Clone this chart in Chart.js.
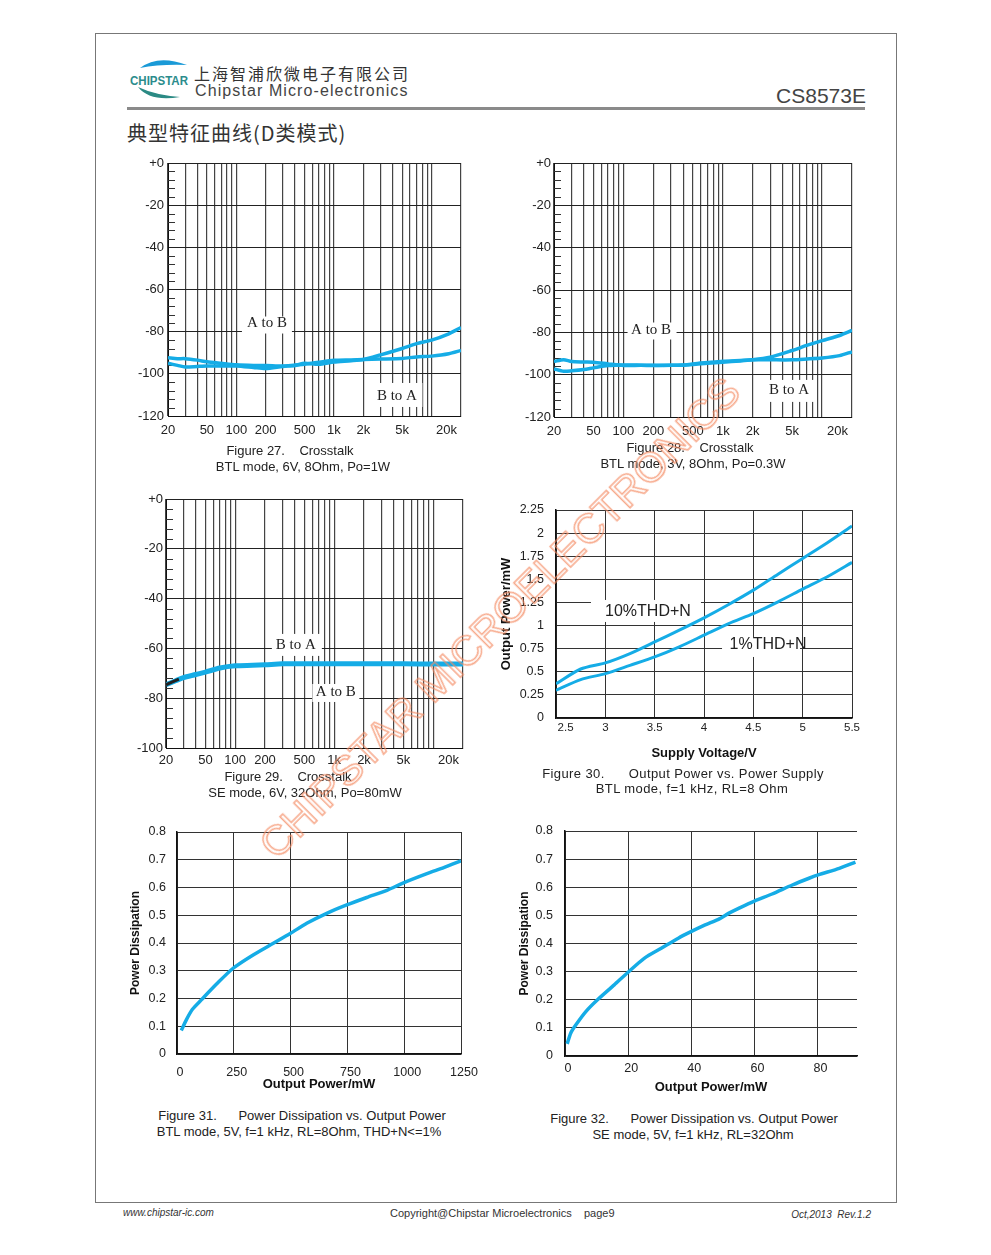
<!DOCTYPE html>
<html>
<head>
<meta charset="utf-8">
<script src="https://cdn.jsdelivr.net/npm/chart.js@4.4.1/dist/chart.umd.min.js"></script>
<style>
  body { margin:0; width:991px; height:1255px; position:relative; background:#fff; overflow:hidden;
         font-family:"Liberation Sans", Arial, sans-serif; color:#222; }
  canvas { position:absolute; }
  .t { position:absolute; white-space:pre; }
  .cap { position:absolute; white-space:pre; font-size:13px; line-height:16px; transform:translateX(-50%); text-align:center; }
  #frame { position:absolute; left:95px; top:33px; width:802px; height:1170px; border:1px solid #777; box-sizing:border-box; }
  #mark { position:absolute; left:500px; top:618px; transform:translate(-50%,-50%) rotate(-45deg);
          font-size:42px; white-space:nowrap; color:rgba(255,255,255,0);
          -webkit-text-stroke:1.5px rgba(244,140,100,0.75); z-index:5; font-family:"Liberation Sans", Arial, sans-serif; }
</style>
</head>
<body>
<div id="frame"></div>

<svg class="t" style="left:125px;top:55px" width="70" height="50">
  <path d="M15 13 Q33 -1 62 10 Q35 9 15 13 Z" fill="#1a9ad7"/>
  <text x="5" y="30" font-family="Liberation Sans" font-weight="bold" font-size="12" fill="#2b8c8c" textLength="58" lengthAdjust="spacingAndGlyphs">CHIPSTAR</text>
  <path d="M13 32 Q25 47 55 42 Q30 40 13 32 Z" fill="#2b8a84"/>
</svg>
<div class="t" style="left:194px;top:63px;font-size:16px;line-height:20px;letter-spacing:2px;font-family:'Noto Sans CJK SC';color:#333">上海智浦欣微电子有限公司</div>
<div class="t" style="left:195px;top:81px;font-size:16px;line-height:20px;letter-spacing:1.1px;color:#444">Chipstar Micro-electronics</div>
<div class="t" style="right:125px;top:84px;font-size:21px;line-height:24px;color:#444">CS8573E</div>
<div class="t" style="left:127px;top:107px;width:738px;height:3px;background:#8a8a8a"></div>
<div class="t" style="left:127px;top:120px;font-size:20px;line-height:26px;letter-spacing:1px;font-family:'Noto Sans CJK SC';color:#333">典型特征曲线(D类模式)</div>

<canvas id="c27"></canvas>
<canvas id="c28"></canvas>
<canvas id="c29"></canvas>
<canvas id="c30"></canvas>
<canvas id="c31"></canvas>
<canvas id="c32"></canvas>

<div class="cap" style="left:290px;top:443px">Figure 27.    Crosstalk</div>
<div class="cap" style="left:303px;top:459px">BTL mode, 6V, 8Ohm, Po=1W</div>
<div class="cap" style="left:690px;top:440px">Figure 28.    Crosstalk</div>
<div class="cap" style="left:693px;top:456px">BTL mode, 3V, 8Ohm, Po=0.3W</div>
<div class="cap" style="left:288px;top:769px">Figure 29.    Crosstalk</div>
<div class="cap" style="left:305px;top:785px">SE mode, 6V, 32Ohm, Po=80mW</div>
<div class="cap" style="left:683px;top:766px;letter-spacing:0.4px">Figure 30.      Output Power vs. Power Supply</div>
<div class="cap" style="left:692px;top:781px;letter-spacing:0.4px">BTL mode, f=1 kHz, RL=8 Ohm</div>
<div class="cap" style="left:302px;top:1108px">Figure 31.      Power Dissipation vs. Output Power</div>
<div class="cap" style="left:299px;top:1124px">BTL mode, 5V, f=1 kHz, RL=8Ohm, THD+N&lt;=1%</div>
<div class="cap" style="left:694px;top:1111px">Figure 32.      Power Dissipation vs. Output Power</div>
<div class="cap" style="left:693px;top:1127px">SE mode, 5V, f=1 kHz, RL=32Ohm</div>

<div class="t" style="left:123px;top:1207px;font-size:10px;line-height:12px;font-style:italic;color:#333">www.chipstar-ic.com</div>
<div class="t" style="left:390px;top:1206px;font-size:11px;line-height:14px;color:#333">Copyright@Chipstar Microelectronics    page9</div>
<div class="t" style="right:120px;top:1209px;font-size:10px;line-height:12px;font-style:italic;color:#333">Oct,2013  Rev.1.2</div>

<div id="mark">CHIPSTAR MICROELECTRONICS</div>

<script>
// ---- data ----
const ctFreq = [20,25,30,40,50,70,100,150,200,300,400,500,700,1000,1500,2000,3000,5000,7000,10000,15000,20000];
const ct27AtoB = [-95,-96,-96.8,-96.5,-96.3,-96.3,-96.3,-97,-97.5,-96.5,-96,-95,-95.5,-94.4,-93.8,-93.2,-91,-88,-85.7,-84,-81,-78];
const ct27BtoA = [-92.4,-92.8,-92.8,-93.5,-94.3,-95,-95.7,-96,-96,-96.3,-95.8,-95.5,-94.5,-93.6,-93.4,-93.2,-93,-92.7,-92,-91.6,-90.5,-88.9];
const ct28AtoB = [-93.8,-92.9,-93.8,-94,-94.1,-94.9,-95.7,-95.6,-95.7,-95.5,-95.5,-94.9,-94.3,-93.7,-93.3,-93,-91.8,-88.6,-86.2,-83.9,-81.5,-79.1];
const ct28BtoA = [-97.3,-98.4,-98.2,-97.6,-96.8,-95.7,-95.4,-95.5,-95.6,-95.6,-95.4,-95.2,-94.6,-94.1,-93.5,-93,-93,-93,-92.6,-92.1,-91,-89.2];
const ct29Freq = [20,25,30,40,50,70,100,150,200,300,500,1000,2000,5000,10000,20000];
const ct29Both = [-74.6,-73,-71.7,-70.5,-69.5,-67.9,-67,-66.8,-66.6,-66.2,-66.2,-66.2,-66.2,-66.2,-66.3,-66.3];
const ct29StartFreq = [20,27];
const ct29Start = [-74.6,-72.3];

const supplyV = [2.5,2.75,3,3.25,3.5,3.75,4,4.25,4.5,4.75,5,5.25,5.5];
const pout10 = [0.37,0.53,0.596,0.697,0.823,0.95,1.083,1.228,1.383,1.556,1.726,1.896,2.077];
const pout1 = [0.30,0.415,0.48,0.57,0.661,0.77,0.896,1.022,1.13,1.257,1.394,1.528,1.683];

const pout31 = [19,41,68,107,174,247,335,424,500,571,659,747,835,924,997,1100,1174,1250];
const pdiss31 = [0.085,0.123,0.161,0.195,0.252,0.309,0.357,0.399,0.435,0.471,0.507,0.537,0.564,0.59,0.617,0.65,0.672,0.696];
const pout32 = [0.7,1.8,3.4,6.6,10.3,15.6,19.9,25.2,30.5,35.9,39.9,44.4,48.6,51.8,55,60,65.6,72,77.3,80.2,86.9,92];
const pdiss32 = [0.043,0.081,0.11,0.158,0.2,0.253,0.297,0.348,0.383,0.419,0.442,0.466,0.486,0.507,0.525,0.551,0.576,0.608,0.632,0.644,0.667,0.689];

// tick values / labels
const freqTicks = [20,30,40,50,60,70,80,90,100,200,300,400,500,600,700,800,900,1000,2000,3000,4000,5000,6000,7000,8000,9000,10000,20000];
const freqLabels = ['20','','','50','','','','','100','200','','','500','','','','','1k','2k','','','5k','','','','','','20k        '];
const dbTicks120 = [0,-20,-40,-60,-80,-100,-120];
const dbLabels120 = ['+0','-20','-40','-60','-80','-100','-120'];
const dbTicks100 = [0,-20,-40,-60,-80,-100];
const dbLabels100 = ['+0','-20','-40','-60','-80','-100'];
const voltTicks = [2.5,3,3.5,4,4.5,5,5.5];
const voltLabels = ['      2.5','3','3.5','4','4.5','5','5.5'];
const powTicks = [0,0.25,0.5,0.75,1,1.25,1.5,1.75,2,2.25];
const powLabels = ['0','0.25','0.5','0.75','1','1.25','1.5','1.75','2','2.25'];
const dissTicks = [0,0.1,0.2,0.3,0.4,0.5,0.6,0.7,0.8];
const dissLabels = ['0','0.1','0.2','0.3','0.4','0.5','0.6','0.7','0.8'];
const mw31Ticks = [0,250,500,750,1000,1250];
const mw31Labels = ['0','250','500','750','1000','1250'];
const mw32Ticks = [0,20,40,60,80];
const mw32Labels = ['0','20','40','60','80'];

// ---- helpers ----
Chart.defaults.font.family = '"Liberation Sans", Arial, sans-serif';
Chart.defaults.color = '#222';
const blue = '#15ace6';

function pts(xs, ys) { return xs.map((x, i) => ({x: x, y: ys[i]})) }

function place(id, plot, yw, xh, padTop, padRight) {
  let c = document.getElementById(id);
  let left = plot[0] - yw, top = plot[1] - padTop;
  c.width = plot[2] + padRight - left;
  c.height = plot[3] + xh - top;
  c.style.left = left + 'px';
  c.style.top = top + 'px';
  return c.getContext('2d');
}

const decor = {
  id: 'decor',
  beforeDatasetsDraw(chart, args, opts) {
    const ctx = chart.ctx, area = chart.chartArea, sx = chart.scales.x, sy = chart.scales.y;
    ctx.save();
    if (opts.minorStep) {
      ctx.strokeStyle = '#333';
      ctx.lineWidth = 1;
      for (let v = sy.max; v >= sy.min; v -= opts.minorStep) {
        if (v % 20 === 0) continue;
        let py = Math.round(sy.getPixelForValue(v)) + 0.5;
        ctx.beginPath();
        ctx.moveTo(area.left, py);
        ctx.lineTo(area.left + 7, py);
        ctx.stroke();
      }
    }
    (opts.notes || []).forEach(n => {
      let px = sx.getPixelForValue(n.x), py = sy.getPixelForValue(n.y);
      ctx.fillStyle = '#fff';
      ctx.fillRect(px + n.dx - n.w / 2, py + n.dy - n.h / 2, n.w, n.h);
      ctx.fillStyle = '#222';
      ctx.font = n.font;
      ctx.textAlign = 'center';
      ctx.textBaseline = 'middle';
      ctx.fillText(n.text, px, py);
    });
    ctx.restore();
  }
};

function axis(opts) {
  return {
    type: opts.type || 'linear',
    min: opts.min, max: opts.max,
    afterBuildTicks: s => { s.ticks = opts.ticks.map(v => ({value: v})) },
    afterFit: s => { if (opts.isX) s.height = opts.fit; else s.width = opts.fit },
    ticks: {
      autoSkip: false, maxRotation: 0, padding: opts.pad, labelOffset: opts.offset || 0,
      font: {size: opts.size}, color: '#222',
      callback: (v, i) => opts.labels[i]
    },
    grid: {color: opts.grid, lineWidth: opts.gw || 1, drawTicks: false},
    border: {display: true, color: '#111', width: opts.bw || 1},
    title: opts.title ? {display: true, text: opts.title, color: '#111',
      font: {size: opts.titleSize || 13, weight: 'bold'}, padding: {top: 4, bottom: 0}} : {display: false}
  };
}

function lineSet(data, width, color) {
  return {data: data, borderColor: color || blue, borderWidth: width, pointRadius: 0, tension: 0.25, fill: false};
}

function baseOptions(padTop, padRight, scales, decorOpts) {
  return {
    responsive: false, animation: false,
    layout: {padding: {top: padTop, right: padRight, left: 0, bottom: 0}},
    plugins: {legend: {display: false}, tooltip: {enabled: false}, decor: decorOpts},
    scales: scales
  };
}

const serif = '15px "Liberation Serif", "Times New Roman", serif';

// ---- Figure 27 ----
let ctx27 = place('c27', [168, 163, 461, 416], 40, 28, 16, 40);
new Chart(ctx27, {
  type: 'line',
  data: {datasets: [lineSet(pts(ctFreq, ct27AtoB), 3.5), lineSet(pts(ctFreq, ct27BtoA), 3.5)]},
  options: baseOptions(16, 40, {
    x: axis({type: 'logarithmic', min: 20, max: 20000, ticks: freqTicks, labels: freqLabels, isX: true, fit: 28, size: 13, pad: 7, grid: '#444', gw: 1.2}),
    y: axis({min: -120, max: 0, ticks: dbTicks120, labels: dbLabels120, fit: 40, size: 13, pad: 4, grid: '#222'})
  }, {minorStep: 4, notes: [
    {text: 'A to B', x: 206, y: -75.9, w: 50, h: 17, dx: 0, dy: 2, font: serif},
    {text: 'B to A', x: 4416, y: -110.5, w: 51, h: 24, dx: 0, dy: -1, font: serif}
  ]}),
  plugins: [decor]
});

// ---- Figure 28 ----
let ctx28 = place('c28', [554, 163, 852, 417], 40, 28, 16, 40);
new Chart(ctx28, {
  type: 'line',
  data: {datasets: [lineSet(pts(ctFreq, ct28AtoB), 3.5), lineSet(pts(ctFreq, ct28BtoA), 3.5)]},
  options: baseOptions(16, 40, {
    x: axis({type: 'logarithmic', min: 20, max: 20000, ticks: freqTicks, labels: freqLabels, isX: true, fit: 28, size: 13, pad: 7, grid: '#444', gw: 1.2}),
    y: axis({min: -120, max: 0, ticks: dbTicks120, labels: dbLabels120, fit: 40, size: 13, pad: 3, grid: '#222'})
  }, {minorStep: 4, notes: [
    {text: 'A to B', x: 189.7, y: -78.9, w: 49, h: 17, dx: 1, dy: 1, font: serif},
    {text: 'B to A', x: 4652, y: -107.2, w: 50, h: 22, dx: 0, dy: 1, font: serif}
  ]}),
  plugins: [decor]
});

// ---- Figure 29 ----
let ctx29 = place('c29', [166, 499, 463, 748], 40, 28, 16, 40);
new Chart(ctx29, {
  type: 'line',
  data: {datasets: [lineSet(pts(ct29StartFreq, ct29Start), 3, '#222'), lineSet(pts(ct29Freq, ct29Both), 5)]},
  options: baseOptions(16, 40, {
    x: axis({type: 'logarithmic', min: 20, max: 20000, ticks: freqTicks, labels: freqLabels, isX: true, fit: 28, size: 13, pad: 5, grid: '#444', gw: 1.2}),
    y: axis({min: -100, max: 0, ticks: dbTicks100, labels: dbLabels100, fit: 40, size: 13, pad: 3, grid: '#222'})
  }, {minorStep: 4, notes: [
    {text: 'B to A', x: 410, y: -58.6, w: 50, h: 22, dx: 1, dy: 0, font: serif},
    {text: 'A to B', x: 1039, y: -77.5, w: 47, h: 18, dx: 0, dy: 1, font: serif}
  ]}),
  plugins: [decor]
});

// ---- Figure 30 ----
const sans16 = '16px "Liberation Sans", Arial, sans-serif';
let ctx30 = place('c30', [556, 510, 852, 718], 61, 43, 24, 25);
new Chart(ctx30, {
  type: 'line',
  data: {datasets: [lineSet(pts(supplyV, pout10), 3), lineSet(pts(supplyV, pout1), 3)]},
  options: baseOptions(24, 25, {
    x: axis({min: 2.5, max: 5.5, ticks: voltTicks, labels: voltLabels, isX: true, fit: 43, size: 11.5, pad: 3, grid: '#333', bw: 1.5, title: 'Supply Voltage/V'}),
    y: axis({min: 0, max: 2.25, ticks: powTicks, labels: powLabels, fit: 61, size: 12.5, pad: 12, grid: '#333', bw: 1.5, title: 'Output Power/mW'})
  }, {notes: [
    {text: '10%THD+N', x: 3.432, y: 1.147, w: 110, h: 22, dx: -2, dy: -1, font: sans16},
    {text: '1%THD+N', x: 4.649, y: 0.79, w: 78, h: 20, dx: -7, dy: 2, font: sans16}
  ]}),
  plugins: [decor]
});

// ---- Figure 31 ----
let ctx31 = place('c31', [177, 832, 461, 1054], 53, 38, 24, 35);
new Chart(ctx31, {
  type: 'line',
  data: {datasets: [lineSet(pts(pout31, pdiss31), 3.5)]},
  options: baseOptions(24, 35, {
    x: axis({min: 0, max: 1250, ticks: mw31Ticks, labels: mw31Labels, isX: true, fit: 38, size: 12.5, pad: 11, offset: 3, grid: '#333', bw: 1.5, title: 'Output Power/mW'}),
    y: axis({min: 0, max: 0.8, ticks: dissTicks, labels: dissLabels, fit: 53, size: 12.5, pad: 11, grid: '#333', bw: 1.5, title: 'Power Dissipation', titleSize: 12})
  }, {}),
  plugins: [decor]
});

// ---- Figure 32 ----
let ctx32 = place('c32', [565, 831, 857, 1056], 52, 39, 24, 25);
new Chart(ctx32, {
  type: 'line',
  data: {datasets: [lineSet(pts(pout32, pdiss32), 3.5)]},
  options: baseOptions(24, 25, {
    x: axis({min: 0, max: 92.5, ticks: mw32Ticks, labels: mw32Labels, isX: true, fit: 39, size: 12.5, pad: 5, offset: 3, grid: '#333', bw: 1.5, title: 'Output Power/mW'}),
    y: axis({min: 0, max: 0.8, ticks: dissTicks, labels: dissLabels, fit: 52, size: 12.5, pad: 12, grid: '#333', bw: 1.5, title: 'Power Dissipation', titleSize: 12})
  }, {}),
  plugins: [decor]
});
</script>
</body>
</html>
